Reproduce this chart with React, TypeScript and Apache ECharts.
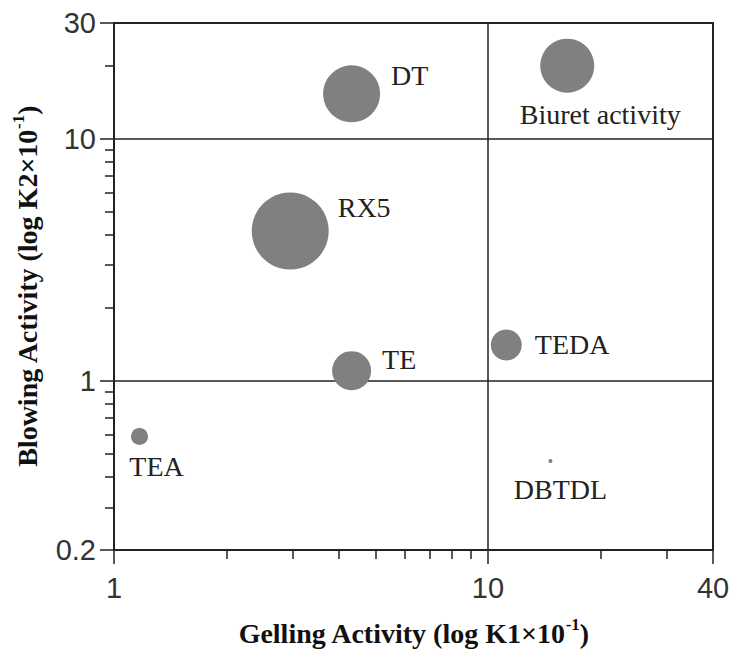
import React, { useEffect, useRef } from "react";
import * as echarts from "echarts";

// ---- data ----
const compounds = ["Biuret activity", "DT", "RX5", "TE", "TEDA", "TEA", "DBTDL"];
const gellingActivity = [16.3, 4.32, 2.96, 4.32, 11.2, 1.17, 14.7];
const blowingActivity = [20.0, 15.3, 4.15, 1.1, 1.405, 0.589, 0.466];
const bubbleDiameter = [54, 57, 77, 39, 31, 17, 4];

const xMajorTicks = [1, 10, 40];
const xMinorTicks = [2, 3, 4, 5, 6, 7, 8, 9, 20, 30];
const yMajorTicks = [0.2, 1, 10, 30];
const yMinorTicks = [0.3, 0.4, 0.5, 0.6, 0.7, 0.8, 0.9, 2, 3, 4, 5, 6, 7, 8, 9, 20];
const xDividers = [10];
const yDividers = [1, 10];

const X_MIN = 1, X_MAX = 40, Y_MIN = 0.2, Y_MAX = 30;

// label placement per compound (layout, not data)
const labelLayout: Record<string, any> = {
  "Biuret activity": { position: "bottom", distance: 8, offset: [33, 0] },
  DT: { position: "right", distance: 11, offset: [0, -18] },
  RX5: { position: "right", distance: 9, offset: [0, -24] },
  TE: { position: "right", distance: 11, offset: [0, -11] },
  TEDA: { position: "right", distance: 13, offset: [0, 0] },
  TEA: { position: "bottom", distance: 8, offset: [17, 0] },
  DBTDL: { position: "bottom", distance: 12, offset: [10, 0] },
};

const lg = (v: number) => Math.log10(v);
const fmt = (v: number) => String(parseFloat(Math.pow(10, v).toPrecision(3)));

const INK = "#222";
const SERIF = "'Liberation Serif', 'Times New Roman', serif";
const SANS = "'Liberation Sans', Arial, sans-serif";

const nameStyle = {
  fontFamily: SERIF,
  fontWeight: "bold" as const,
  fontSize: 28,
  color: "#111",
  rich: {
    sup: {
      fontFamily: SERIF,
      fontWeight: "bold" as const,
      fontSize: 17,
      color: "#111",
      verticalAlign: "top" as const,
      lineHeight: 34,
    },
  },
};

export default function App() {
  const ref = useRef<HTMLDivElement>(null);
  useEffect(() => {
    if (!ref.current) return;
    const chart = echarts.init(ref.current, null, { renderer: "svg" });

    const majorX = {
      type: "value",
      position: "bottom",
      min: lg(X_MIN),
      max: lg(X_MAX),
      name: "Gelling Activity (log K1×10{sup|-1})",
      nameLocation: "middle",
      nameGap: 66,
      nameTextStyle: nameStyle,
      axisLine: { show: true, onZero: false, lineStyle: { color: INK, width: 2 } },
      axisTick: { show: true, inside: false, length: 14, customValues: xMajorTicks.map(lg), lineStyle: { color: INK, width: 1.5 } },
      axisLabel: { customValues: xMajorTicks.map(lg), formatter: fmt, margin: 23, fontFamily: SANS, fontSize: 29, color: "#333" },
      splitLine: { show: false },
    };
    const minorX = {
      type: "value",
      position: "bottom",
      min: lg(X_MIN),
      max: lg(X_MAX),
      axisLine: { show: false, onZero: false },
      axisTick: { show: true, inside: false, length: 9, customValues: xMinorTicks.map(lg), lineStyle: { color: INK, width: 1.5 } },
      axisLabel: { show: false },
      splitLine: { show: false },
    };
    const majorY = {
      type: "value",
      position: "left",
      min: lg(Y_MIN),
      max: lg(Y_MAX),
      name: "Blowing Activity (log K2×10{sup|-1})",
      nameLocation: "middle",
      nameGap: 70,
      nameTextStyle: nameStyle,
      axisLine: { show: true, onZero: false, lineStyle: { color: INK, width: 2 } },
      axisTick: { show: true, inside: false, length: 14, customValues: yMajorTicks.map(lg), lineStyle: { color: INK, width: 1.5 } },
      axisLabel: { customValues: yMajorTicks.map(lg), formatter: fmt, margin: 18, fontFamily: SANS, fontSize: 29, color: "#333" },
      splitLine: { show: false },
    };
    const minorY = {
      type: "value",
      position: "left",
      min: lg(Y_MIN),
      max: lg(Y_MAX),
      axisLine: { show: false, onZero: false },
      axisTick: { show: true, inside: false, length: 9, customValues: yMinorTicks.map(lg), lineStyle: { color: INK, width: 1.5 } },
      axisLabel: { show: false },
      splitLine: { show: false },
    };

    const bubbles = compounds.map((name, i) => ({
      name,
      value: [lg(gellingActivity[i]), lg(blowingActivity[i]), bubbleDiameter[i]],
      label: labelLayout[name],
    }));

    chart.setOption({
      animation: false,
      backgroundColor: "#fff",
      grid: {
        left: 114,
        right: 20,
        top: 23,
        bottom: 99,
        show: true,
        borderColor: INK,
        borderWidth: 2,
        backgroundColor: "transparent",
      },
      xAxis: [majorX, minorX],
      yAxis: [majorY, minorY],
      series: [
        {
          type: "line",
          data: [],
          z: 1,
          silent: true,
          markLine: {
            silent: true,
            symbol: ["none", "none"],
            label: { show: false },
            lineStyle: { color: INK, width: 1.5, type: "solid" },
            data: [
              ...xDividers.map((v) => ({ xAxis: lg(v) })),
              ...yDividers.map((v) => ({ yAxis: lg(v) })),
            ],
          },
        },
        {
          type: "scatter",
          z: 5,
          data: bubbles,
          symbolSize: (val: number[]) => val[2],
          itemStyle: { color: "#808080", opacity: 1 },
          label: {
            show: true,
            formatter: "{b}",
            fontFamily: SERIF,
            fontSize: 28,
            color: INK,
          },
          emphasis: { disabled: true },
        },
      ],
    });
    return () => chart.dispose();
  }, []);
  return <div ref={ref} style={{ position: "fixed", left: 0, top: 0, width: 733, height: 652 }} />;
}
